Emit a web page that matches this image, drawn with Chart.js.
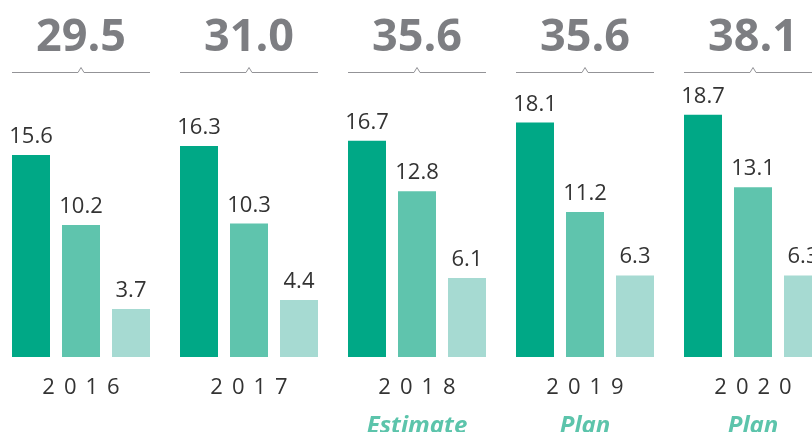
<!DOCTYPE html>
<html>
<head>
<meta charset="utf-8">
<script src="https://cdn.jsdelivr.net/npm/chart.js@4"></script>
<style>
  html, body { margin: 0; padding: 0; background: #fff; overflow: hidden; }
  #wrap { position: absolute; left: -3px; top: 0; width: 840px; height: 432px; }
</style>
</head>
<body>
<div id="wrap"><canvas id="breakdownChart" width="840" height="432"></canvas></div>
<script>
// Years and the note under some of them
const years = ['2016', '2017', '2018', '2019', '2020'];
const notes = ['', '', 'Estimate', 'Plan', 'Plan'];

// Three parts per year
const partA = [15.6, 16.3, 16.7, 18.1, 18.7];
const partB = [10.2, 10.3, 12.8, 11.2, 13.1];
const partC = [3.7, 4.4, 6.1, 6.3, 6.3];

// Totals shown above each group
const totals = [29.5, 31.0, 35.6, 35.6, 38.1];

const colors = ['#00a886', '#5fc4ad', '#a6dad2'];

// Draws value labels, totals with brackets, and year labels
const labelsPlugin = {
  id: 'labelsPlugin',
  afterDatasetsDraw(chart) {
    const c = chart.ctx;
    const xScale = chart.scales.x;
    c.save();

    // values above bars
    c.font = '22px "Open Sans"';
    c.fillStyle = '#333333';
    c.textAlign = 'center';
    c.textBaseline = 'alphabetic';
    chart.data.datasets.forEach((ds, di) => {
      const meta = chart.getDatasetMeta(di);
      meta.data.forEach((bar, i) => {
        c.fillText(ds.data[i].toFixed(1), bar.x, bar.y - 12);
      });
    });

    years.forEach((yr, i) => {
      const cx = xScale.getPixelForValue(i);
      const first = chart.getDatasetMeta(0).data[i];
      const last = chart.getDatasetMeta(2).data[i];
      const left = first.x - first.width / 2;
      const right = last.x + last.width / 2;

      // total
      c.font = 'bold 45px "Open Sans"';
      c.fillStyle = '#7d7e82';
      c.textAlign = 'center';
      c.fillText(totals[i].toFixed(1), cx, 51);

      // bracket
      c.strokeStyle = '#939397';
      c.lineWidth = 1;
      c.beginPath();
      c.moveTo(left, 72.5);
      c.lineTo(cx - 3, 72.5);
      c.lineTo(cx, 67.5);
      c.lineTo(cx + 3, 72.5);
      c.lineTo(right, 72.5);
      c.stroke();

      // year with spacing
      c.font = '22px "Open Sans"';
      c.fillStyle = '#333333';
      c.letterSpacing = '9px';
      c.textAlign = 'center';
      c.fillText(yr, cx + 4.5, 394);
      c.letterSpacing = '0px';

      // note
      if (notes[i]) {
        c.font = 'italic bold 24px "Open Sans"';
        c.fillStyle = '#5cc4ab';
        c.fillText(notes[i], cx, 433);
      }
    });
    c.restore();
  }
};

const breakdownChart = new Chart(document.getElementById('breakdownChart'), {
  type: 'bar',
  data: {
    labels: years,
    datasets: [
      { data: partA, backgroundColor: colors[0] },
      { data: partB, backgroundColor: colors[1] },
      { data: partC, backgroundColor: colors[2] }
    ]
  },
  options: {
    responsive: false,
    animation: false,
    datasets: {
      bar: { categoryPercentage: 150 / 168, barPercentage: 0.76 }
    },
    layout: { padding: { top: 98, bottom: 75, left: 0, right: 0 } },
    plugins: { legend: { display: false }, tooltip: { enabled: false } },
    scales: {
      x: { display: false },
      y: { display: false, min: 0, max: 20 }
    }
  },
  plugins: [labelsPlugin]
});
</script>
</body>
</html>
